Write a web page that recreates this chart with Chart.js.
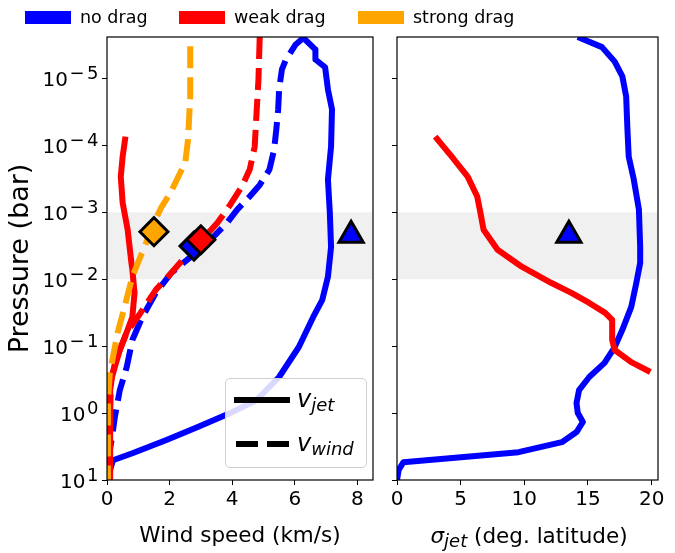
<!DOCTYPE html>
<html>
<head>
<meta charset="utf-8">
<script src="https://cdn.jsdelivr.net/npm/chart.js@4.4.0/dist/chart.umd.min.js"></script>
<style>
  body { margin: 0; background: #fff; font-family: 'DejaVu Sans', sans-serif; color: #000; }
  #wrap { position: relative; width: 675px; height: 553px; overflow: hidden; }
  canvas { position: absolute; top: 0; }
  #windChart { left: 0; }
  #sigmaChart { left: 380px; }
  .key { position: absolute; top: 4px; height: 26px; display: flex; align-items: center; font-size: 17.5px; white-space: nowrap; }
  .key .sw { display: inline-block; width: 46px; height: 13px; margin-right: 9px; }
  #styleKey { position: absolute; left: 225px; top: 378px; width: 140px; height: 88px; border: 1px solid #cfcfcf;
              border-radius: 5px; background: rgba(255,255,255,0.85); }
  .seg { position: absolute; height: 6px; background: #000; }
  .lbl { position: absolute; font-style: italic; font-size: 24px; line-height: 24px; white-space: nowrap; }
  .lbl sub, #sigmaTitle sub { font-size: 18px; vertical-align: baseline; position: relative; top: 4px; }
  #sigmaTitle { position: absolute; left: 393px; width: 272px; top: 523px; text-align: center; font-size: 21.5px; line-height: 26px; white-space: nowrap; }
</style>
</head>
<body>
<div id="wrap">
  <canvas id="windChart" width="390" height="553"></canvas>
  <canvas id="sigmaChart" width="295" height="553"></canvas>

  <div class="key" style="left:25px"><span class="sw" style="background:blue"></span>no drag</div>
  <div class="key" style="left:179px"><span class="sw" style="background:red"></span>weak drag</div>
  <div class="key" style="left:358px"><span class="sw" style="background:orange"></span>strong drag</div>

  <div id="styleKey">
    <div class="seg" style="left:8px; top:18px; width:56px"></div>
    <div class="seg" style="left:10px; top:62px; width:22px"></div>
    <div class="seg" style="left:41px; top:62px; width:22px"></div>
    <div class="lbl" style="left:71px; top:8px">v<sub>jet</sub></div>
    <div class="lbl" style="left:71px; top:52px">v<sub>wind</sub></div>
  </div>

  <div id="sigmaTitle"><i>σ</i><sub><i>jet</i></sub> (deg. latitude)</div>
</div>

<script>
Chart.defaults.font.family = "'DejaVu Sans', sans-serif";
Chart.defaults.color = '#000';
Chart.defaults.animation = false;

// pressure axis (bar), top to bottom
var pTop = 2.4e-6, pBottom = 10;
var yTicks = [1e-5, 1e-4, 1e-3, 1e-2, 1e-1, 1, 10];
var yTickBase = '10';
var yTickExponents = ['−5', '−4', '−3', '−2', '−1', '0', '1'];
var bandTop = 1e-3, bandBottom = 1e-2;

var windTicks = [0, 2, 4, 6, 8];
var sigmaTicks = [0, 5, 10, 15, 20];

// no drag: jet speed and wind speed (km/s)
var pJetNone = [2.4e-6, 3.7e-6, 5.2e-6, 6.8e-6, 1.46e-5, 2.9e-5, 1.04e-4, 3.25e-4, 1.0e-3, 3.3e-3, 9.2e-3,
                0.0203, 0.0366, 0.103, 0.289, 0.638, 1.0, 1.62, 2.54, 3.98, 5.06, 7.1, 10];
var vJetNone = [6.25, 6.66, 6.66, 6.97, 7.06, 7.19, 7.16, 7.06, 7.12, 7.16, 7.06,
                6.88, 6.59, 6.13, 5.5, 4.78, 3.94, 2.9, 1.88, 0.81, 0.19, 0.1, 0.08];
var pWindNone = [2.4e-6, 3.1e-6, 5.2e-6, 7.3e-6, 1.46e-5, 2.9e-5, 5.8e-5, 1.16e-4, 2.3e-4, 3.9e-4, 5.8e-4,
                 9.1e-4, 1.43e-3, 2.57e-3, 4.0e-3, 8.0e-3, 0.016, 0.0366, 0.081, 0.205, 0.453, 1.15, 2.29, 3.58, 10];
var vWindNone = [6.31, 6.03, 5.72, 5.59, 5.5, 5.47, 5.41, 5.34, 5.19, 4.88, 4.56,
                 4.16, 3.84, 3.31, 2.84, 2.06, 1.56, 1.13, 0.81, 0.63, 0.41, 0.25, 0.16, 0.09, 0.04];

// weak drag
var pJetWeak = [7.4e-5, 1.47e-4, 2.93e-4, 7.2e-4, 1.82e-3, 5.7e-3, 7.2e-3, 0.016, 0.0366, 0.057,
                0.114, 0.205, 0.289, 0.453, 10];
var vJetWeak = [0.59, 0.5, 0.44, 0.5, 0.66, 0.78, 0.81, 0.88, 0.81, 0.66,
                0.41, 0.25, 0.16, 0.1, 0.1];
var pWindWeak = [2.4e-6, 1.03e-5, 3.2e-5, 1.04e-4, 2.3e-4, 4.1e-4, 7.7e-4, 1.43e-3, 2.3e-3, 3.63e-3,
                 8.0e-3, 0.0144, 0.034, 0.063, 0.161, 0.32, 1.26, 10];
var vWindWeak = [4.88, 4.84, 4.78, 4.72, 4.56, 4.31, 3.94, 3.53, 3.13, 2.69,
                 2.06, 1.56, 1.03, 0.63, 0.28, 0.13, 0.09, 0.09];

// strong drag
var pWindStrong = [3.3e-6, 1.86e-5, 8.2e-5, 1.8e-4, 2.93e-4, 5.1e-4, 8.2e-4, 1.64e-3, 2.85e-3, 5.1e-3,
                   9.2e-3, 0.0259, 0.063, 0.145, 0.252, 0.64, 10];
var vWindStrong = [2.66, 2.66, 2.59, 2.5, 2.28, 2.03, 1.75, 1.44, 1.25, 1.03,
                   0.81, 0.56, 0.34, 0.19, 0.09, 0.03, 0.03];

// photospheric markers: [wind speed, pressure]
var markNone = [2.78, 3.2e-3];
var markWeak = [3.0, 2.57e-3];
var markStrong = [1.5, 1.95e-3];
var obsWind = [7.8, 2.2e-3];
var obsSigma = [13.5, 2.2e-3];

// jet width (deg. latitude)
var pSigNone = [2.4e-6, 3.4e-6, 5.6e-6, 9.3e-6, 1.86e-5, 5.8e-5, 1.47e-4, 3.25e-4, 9.1e-4, 3.27e-3, 5.7e-3,
                0.0113, 0.0259, 0.057, 0.103, 0.178, 0.289, 0.453, 0.708, 1.0, 1.36, 1.92, 2.72, 3.84, 5.42, 7.1, 10];
var sSigNone = [14.2, 16.1, 17.1, 17.7, 18.0, 18.1, 18.2, 18.6, 19.0, 19.1, 19.1,
                18.8, 18.4, 17.7, 17.1, 16.3, 15.1, 14.3, 14.1, 14.2, 14.6, 14.1, 12.95, 9.55, 0.5, 0.13, 0];
var pSigWeak = [7.4e-5, 1.47e-4, 2.93e-4, 5.8e-4, 1.01e-3, 1.82e-3, 3.63e-3, 6.5e-3, 0.0113, 0.016,
                0.0226, 0.0318, 0.0406, 0.081, 0.114, 0.173, 0.243];
var sSigWeak = [3.0, 4.3, 5.55, 6.3, 6.55, 6.8, 7.9, 9.8, 12.1, 13.7,
                15.1, 16.35, 16.9, 16.9, 17.1, 18.4, 19.9];

function pts(xs, ps) {
  return xs.map(function (x, i) { return { x: x, y: ps[i] }; });
}

function profile(xs, ps, color, dashed, order) {
  return {
    data: pts(xs, ps), showLine: true, borderColor: color, backgroundColor: color,
    borderWidth: 6, borderDash: dashed ? [22, 9] : [], borderCapStyle: 'butt', borderJoinStyle: 'round',
    pointRadius: 0, pointHoverRadius: 0, tension: 0, order: order, clip: 0
  };
}

function marker(m, style, color, radius, order) {
  return {
    data: [{ x: m[0], y: m[1] }], showLine: false, pointStyle: style, pointRadius: radius,
    pointHoverRadius: radius, backgroundColor: color, borderColor: '#000', borderWidth: 3, order: order
  };
}

// shaded pressure band and the black frame around each panel
var panelPlugin = {
  id: 'panel',
  beforeDatasetsDraw: function (chart) {
    var a = chart.chartArea, y = chart.scales.y, ctx = chart.ctx;
    var y0 = y.getPixelForValue(bandTop), y1 = y.getPixelForValue(bandBottom);
    ctx.save();
    ctx.fillStyle = 'rgb(240,240,240)';
    ctx.fillRect(a.left, y0, a.right - a.left, y1 - y0);
    ctx.restore();
  },
  afterDatasetsDraw: function (chart) {
    var a = chart.chartArea, ctx = chart.ctx;
    ctx.save();
    ctx.strokeStyle = '#000';
    ctx.lineWidth = 1.2;
    ctx.strokeRect(a.left, a.top, a.right - a.left, a.bottom - a.top);
    ctx.restore();
  }
};

// power-of-ten labels with a raised exponent on the pressure axis
var powerLabels = {
  id: 'powerLabels',
  afterDraw: function (chart) {
    var y = chart.scales.y, ctx = chart.ctx;
    var xr = chart.chartArea.left - 8.5;
    ctx.save();
    ctx.fillStyle = '#000';
    ctx.textAlign = 'right';
    ctx.textBaseline = 'alphabetic';
    yTicks.forEach(function (v, i) {
      var py = y.getPixelForValue(v);
      var exp = yTickExponents[i];
      ctx.font = "18px 'DejaVu Sans', sans-serif";
      var x = xr;
      // digit and minus sign drawn apart, as math typesetting spaces them
      var digit = exp.slice(-1), sign = exp.length > 1 ? exp[0] : '';
      ctx.fillText(digit, x, py + 0.5);
      x -= ctx.measureText(digit).width;
      if (sign) {
        x -= 2.5;
        ctx.fillText(sign, x, py + 0.5);
        x -= ctx.measureText(sign).width;
      }
      x -= 1.5;
      ctx.font = "20px 'DejaVu Sans', sans-serif";
      ctx.fillText(yTickBase, x, py + 8);
    });
    ctx.restore();
  }
};

var tickGrid = { display: true, drawOnChartArea: false, drawTicks: true, tickLength: 5, color: '#000', lineWidth: 1 };

function yAxis(showTitle, width) {
  return {
    type: 'logarithmic', reverse: true, min: pTop, max: pBottom,
    afterBuildTicks: function (s) { s.ticks = yTicks.map(function (v) { return { value: v }; }); },
    afterFit: function (s) { s.width = width; },
    grid: tickGrid, border: { display: false },
    ticks: { display: false, autoSkip: false },
    title: { display: showTitle, text: 'Pressure (bar)', font: { size: 27 }, padding: { top: 5, bottom: 0 } }
  };
}

function xAxis(max, ticks, title) {
  return {
    type: 'linear', min: 0, max: max,
    afterBuildTicks: function (s) { s.ticks = ticks.map(function (v) { return { value: v }; }); },
    afterFit: function (s) { s.height = 73; },
    grid: tickGrid, border: { display: false },
    ticks: { autoSkip: false, maxRotation: 0, padding: 3, font: { size: 20 } },
    title: { display: title !== '', text: title, font: { size: 21.5 }, padding: { top: 0, bottom: 4 } }
  };
}

var common = {
  responsive: false,
  events: [],
  plugins: { legend: { display: false }, tooltip: { enabled: false } }
};

new Chart(document.getElementById('windChart'), {
  type: 'scatter',
  data: {
    datasets: [
      profile(vJetNone, pJetNone, 'blue', false, 20),
      profile(vWindNone, pWindNone, 'blue', true, 19),
      profile(vJetWeak, pJetWeak, 'red', false, 18),
      profile(vWindWeak, pWindWeak, 'red', true, 17),
      profile(vWindStrong, pWindStrong, 'orange', true, 16),
      marker(markNone, 'rectRot', 'blue', 14, 4),
      marker(markWeak, 'rectRot', 'red', 14, 3),
      marker(markStrong, 'rectRot', 'orange', 14, 2),
      marker(obsWind, 'triangle', 'blue', 14, 1)
    ]
  },
  options: Object.assign({}, common, {
    layout: { padding: { top: 37, right: 10, bottom: 0, left: 0 } },
    scales: { x: xAxis(8.5, windTicks, 'Wind speed (km/s)'), y: yAxis(true, 107) }
  }),
  plugins: [panelPlugin, powerLabels]
});

new Chart(document.getElementById('sigmaChart'), {
  type: 'scatter',
  data: {
    datasets: [
      profile(sSigNone, pSigNone, 'blue', false, 20),
      profile(sSigWeak, pSigWeak, 'red', false, 19),
      marker(obsSigma, 'triangle', 'blue', 14, 1)
    ]
  },
  options: Object.assign({}, common, {
    layout: { padding: { top: 37, right: 10, bottom: 0, left: 0 } },
    scales: { x: xAxis(20.5, sigmaTicks, ''), y: yAxis(false, 13) }
  }),
  plugins: [panelPlugin]
});
</script>
</body>
</html>
